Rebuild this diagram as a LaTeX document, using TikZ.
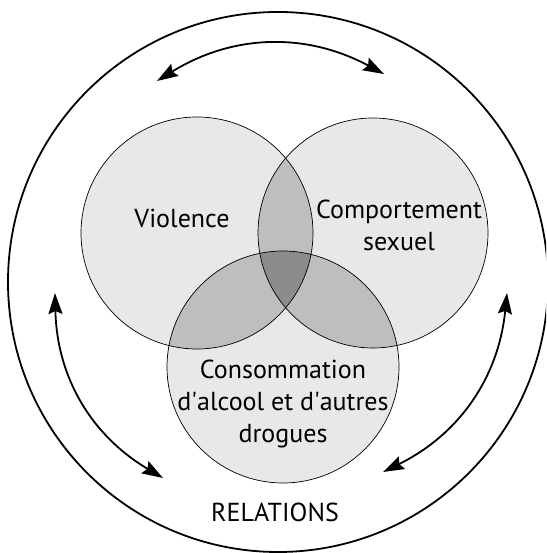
\documentclass[tikz,border=0pt]{standalone}
\usepackage{fontspec}
\setmainfont{PT Sans}
\usetikzlibrary{arrows.meta}
\definecolor{lightg}{RGB}{232,232,232}
\definecolor{midg}{RGB}{190,190,190}
\definecolor{darkg}{RGB}{140,140,140}
\begin{document}
\begin{tikzpicture}[x=1pt,y=1pt,
  setcircle/.style={circle,draw=black,line width=0.7pt,inner sep=0pt},
  lbl/.style={font=\fontsize{26}{32}\selectfont,align=center,inner sep=0pt},
  relarrow/.style={line width=1.8pt,{Stealth[length=21pt,width=14pt,inset=3pt]}-{Stealth[length=21pt,width=14pt,inset=3pt]}}
]
\useasboundingbox (0,0) rectangle (546,553);
\clip (0,0) rectangle (546,553);
\fill[white] (0,0) rectangle (546,553);
\coordinate (O) at (278,271);
\coordinate (cV) at (197,320);
\coordinate (cC) at (373,320);
\coordinate (cD) at (283,186);
% fills
\fill[lightg] (cV) circle[radius=116];
\fill[lightg] (cC) circle[radius=115];
\fill[lightg] (cD) circle[radius=116];
\begin{scope}
  \clip (cV) circle[radius=116];
  \fill[midg] (cC) circle[radius=115];
  \fill[midg] (cD) circle[radius=116];
\end{scope}
\begin{scope}
  \clip (cC) circle[radius=115];
  \fill[midg] (cD) circle[radius=116];
\end{scope}
\begin{scope}
  \clip (cV) circle[radius=116];
  \clip (cC) circle[radius=115];
  \fill[darkg] (cD) circle[radius=116];
\end{scope}
% outlines
\node[setcircle,minimum size=232pt] (V) at (cV) {};
\node[setcircle,minimum size=230pt] (C) at (cC) {};
\node[setcircle,minimum size=232pt] (D) at (cD) {};
\node[circle,draw=black,line width=1.8pt,inner sep=0pt,minimum size=540pt] (outer) at (O) {};
% labels
\node[lbl] (tV) at (182,335) {Violence};
\node[lbl] (tC) at (399,328) {Comportement\\sexuel};
\node[lbl] (tD) at (283,149) {Consommation\\d\textquotesingle alcool et d\textquotesingle autres\\drogues};
\node[lbl] (tR) at (275,41) {RELATIONS};
% arrows
\coordinate (a1) at (157,472);
\coordinate (a2) at (384,479);
\coordinate (b1) at (55,260);
\coordinate (b2) at (163,75);
\coordinate (c1) at (507,260);
\coordinate (c2) at (383,81);
\draw[relarrow] (a1) to[bend left=30] (a2);
\draw[relarrow] (b1) to[bend right=29] (b2);
\draw[relarrow] (c1) to[bend left=29] (c2);
\end{tikzpicture}
\end{document}
